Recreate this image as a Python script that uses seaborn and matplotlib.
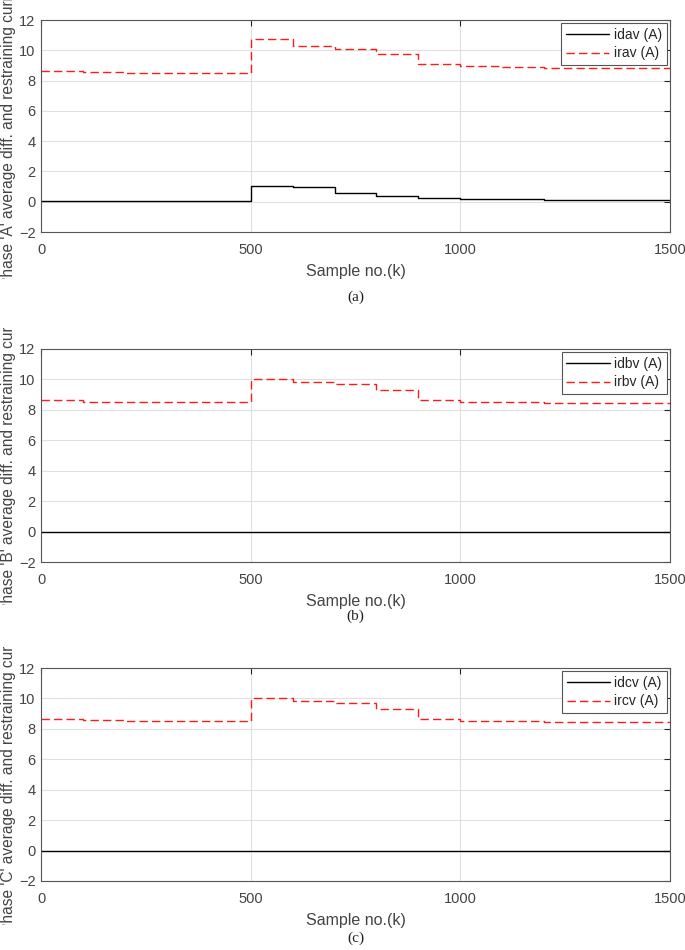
import numpy as np
import pandas as pd
import seaborn as sns
import matplotlib
matplotlib.use("Agg")
import matplotlib.pyplot as plt
from matplotlib.transforms import Bbox, TransformedBbox

sample_k = [0, 100, 200, 300, 400, 500, 600, 700, 800, 900, 1000, 1100, 1200, 1300, 1400, 1500]

idav = [0.04, 0.04, 0.04, 0.04, 0.04, 1.07, 0.96, 0.59, 0.39, 0.26, 0.20, 0.15, 0.13, 0.12, 0.10, 0.10]
irav = [8.64, 8.55, 8.50, 8.50, 8.50, 10.77, 10.26, 10.10, 9.76, 9.08, 8.95, 8.90, 8.86, 8.86, 8.86, 8.86]

idbv = [0.0] * 16
irbv = [8.64, 8.53, 8.53, 8.53, 8.53, 10.04, 9.81, 9.70, 9.32, 8.64, 8.53, 8.51, 8.46, 8.46, 8.46, 8.46]

idcv = [0.0] * 16
ircv = [8.66, 8.55, 8.53, 8.53, 8.53, 10.02, 9.82, 9.71, 9.32, 8.64, 8.53, 8.49, 8.46, 8.46, 8.46, 8.46]

panels = [
    ("idav (A)", "irav (A)", idav, irav, "Phase 'A' average diff. and restraining current (A)", "(a)"),
    ("idbv (A)", "irbv (A)", idbv, irbv, "Phase 'B' average diff. and restraining current (A)", "(b)"),
    ("idcv (A)", "ircv (A)", idcv, ircv, "Phase 'C' average diff. and restraining current (A)", "(c)"),
]
y_ticks = [-2, 0, 2, 4, 6, 8, 10, 12]
x_ticks = [0, 500, 1000, 1500]

sns.set_theme(style="white")
plt.rcParams['font.family'] = ['Liberation Sans', 'DejaVu Sans']

W, H = 685, 950
fig = plt.figure(figsize=(W / 100, H / 100), dpi=100)

# pixel layout: (axes top, axes bottom, label clip top, label clip bottom, caption y)
layout = [
    (20, 232, -5, 279, 297),
    (349, 562, 328, 605, 616),
    (668, 881, 647, 925, 938),
]
left_px, right_px = 41, 670
txt_col = '#444444'

for (dname, rname, dvals, rvals, ylab, cap), (top, bot, ct, cb, capy) in zip(panels, layout):
    ax = fig.add_axes([left_px / W, 1 - bot / H, (right_px - left_px) / W, (bot - top) / H])
    df = pd.DataFrame({"k": sample_k * 2,
                       "val": list(dvals) + list(rvals),
                       "series": [dname] * 16 + [rname] * 16})
    sns.lineplot(data=df, x="k", y="val", hue="series", style="series",
                 palette={dname: "black", rname: "#ff1a1a"},
                 dashes={dname: "", rname: (6, 3)},
                 drawstyle="steps-post", linewidth=1.0, ax=ax, legend=True)
    ax.set_xlim(0, 1500)
    ax.set_ylim(-2, 12)
    ax.set_xticks(x_ticks)
    ax.set_yticks(y_ticks)
    ax.grid(True, color='#e0e0e0', linewidth=0.8)
    ax.set_axisbelow(True)
    for s in ax.spines.values():
        s.set_color('#555555')
        s.set_linewidth(0.8)
    ax.tick_params(direction='in', length=4, width=0.8, color='#262626',
                   top=True, right=True, labelsize=10.5, labelcolor=txt_col, pad=4)
    ax.tick_params(axis='x', pad=8)
    ax.set_xlabel("Sample no.(k)", fontsize=11.5, color=txt_col, labelpad=5)
    lbl = ax.set_ylabel(ylab, fontsize=11.2, color=txt_col, loc='bottom')
    start_px = cb + 8
    ax.yaxis.set_label_coords(-0.04, (bot - start_px) / (bot - top))
    clip = TransformedBbox(Bbox([[0, 1 - cb / H], [1, 1 - ct / H]]), fig.transFigure)
    lbl.set_clip_box(clip)
    lbl.set_clip_on(True)
    leg = ax.legend(loc='upper right', fontsize=10, frameon=True, fancybox=False,
                    edgecolor='#555555', framealpha=1, borderaxespad=0.25,
                    handlelength=3.1, handletextpad=0.3, borderpad=0.35, labelspacing=0.3)
    leg.get_frame().set_linewidth(0.8)
    for t in leg.get_texts():
        t.set_color('#262626')
    fig.text(0.5 * (left_px + right_px) / W, 1 - capy / H, cap, ha='center', va='center',
             fontsize=11, family=['Liberation Serif', 'DejaVu Serif'], color='#222222')

fig.savefig("out.png", dpi=100)
